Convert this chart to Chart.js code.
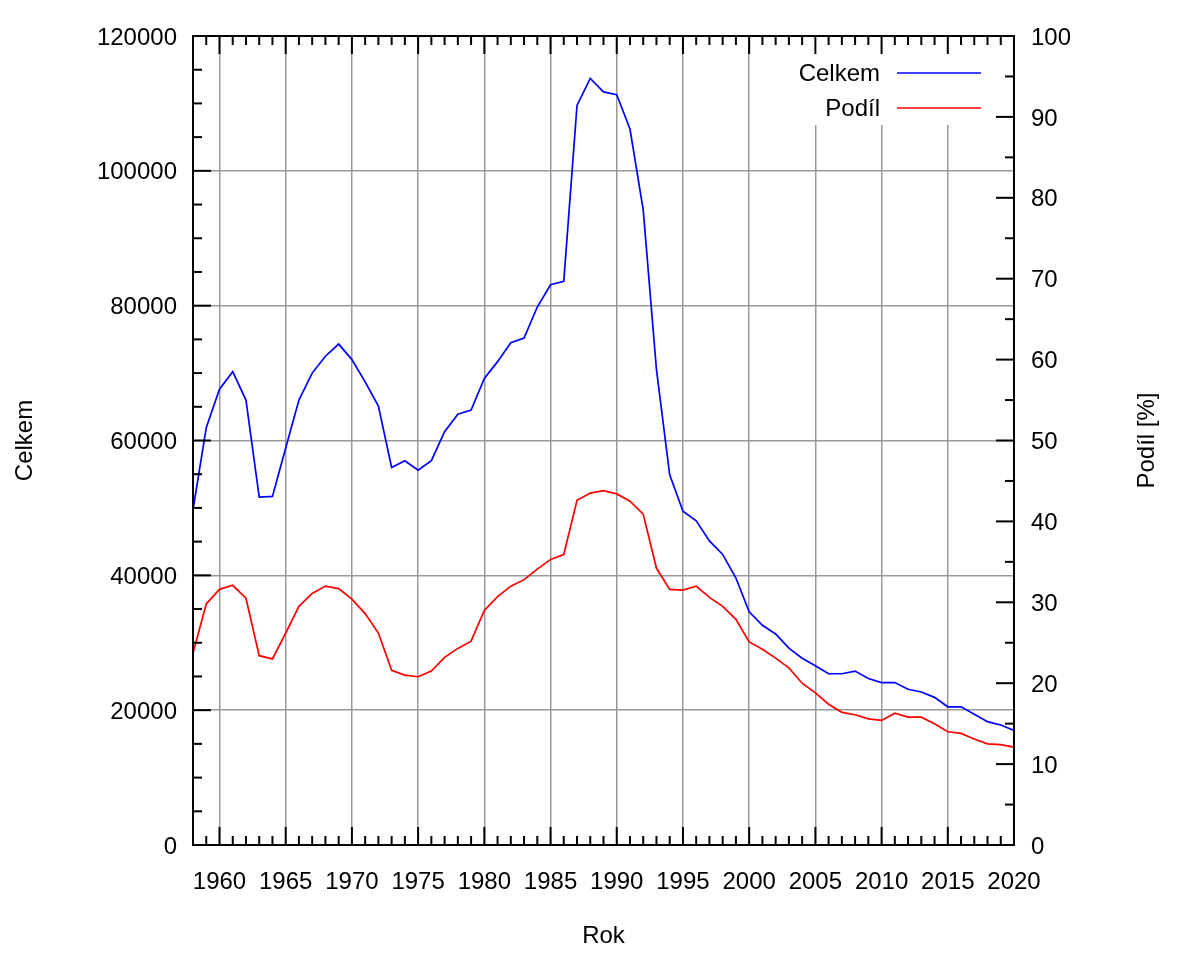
<!DOCTYPE html>
<html><head><meta charset="utf-8">
<script src="https://cdn.jsdelivr.net/npm/chart.js@4.4.1/dist/chart.umd.min.js"></script>
<style>html,body{margin:0;padding:0;background:#fff}canvas{display:block}</style>
</head><body>
<canvas id="c" width="1200" height="960" style="width:1200px;height:960px"></canvas>
<script>
const years = [1958,1959,1960,1961,1962,1963,1964,1965,1966,1967,1968,1969,1970,1971,1972,1973,1974,1975,1976,1977,1978,1979,1980,1981,1982,1983,1984,1985,1986,1987,1988,1989,1990,1991,1992,1993,1994,1995,1996,1997,1998,1999,2000,2001,2002,2003,2004,2005,2006,2007,2008,2009,2010,2011,2012,2013,2014,2015,2016,2017,2018,2019,2020];
const celkem = [49700,61900,67600,70200,66000,51600,51700,58900,66000,70000,72500,74300,72000,68700,65100,56000,57000,55600,57000,61300,63900,64500,69200,71700,74500,75200,79800,83100,83600,109700,113700,111700,111300,106200,94200,70500,54900,49500,48100,45100,43100,39600,34600,32600,31300,29200,27700,26600,25400,25400,25800,24700,24100,24100,23100,22700,21900,20500,20500,19400,18300,17800,17000];
const podil = [23.7,29.8,31.6,32.1,30.5,23.4,23.0,26.2,29.5,31.1,32.0,31.7,30.4,28.6,26.2,21.6,21.0,20.8,21.5,23.2,24.3,25.2,29.0,30.7,32.0,32.8,34.1,35.3,35.9,42.6,43.5,43.8,43.4,42.5,40.9,34.2,31.6,31.5,32.0,30.6,29.5,27.9,25.1,24.2,23.1,21.9,20.0,18.8,17.4,16.4,16.1,15.6,15.4,16.3,15.8,15.8,15.0,14.0,13.8,13.1,12.5,12.4,12.1];
const xTickLabels = [1960,1965,1970,1975,1980,1985,1990,1995,2000,2005,2010,2015,2020];
const yTickLabels = [0,20000,40000,60000,80000,100000,120000];
const y2TickLabels = [0,10,20,30,40,50,60,70,80,90,100];
const seriesNames = ['Celkem','Podíl'];
const xTitle = 'Rok';
const yTitle = 'Celkem';
const y2Title = 'Podíl [%]';

const FONT = {family:"'Liberation Sans', Arial, sans-serif", size:24};
const GRID = '#999999';

const gnuFrame = {
  id:'gnuFrame',
  beforeDatasetsDraw(chart){
    const ctx = chart.ctx, a = chart.chartArea;
    ctx.save();
    ctx.fillStyle = '#fff';
    ctx.fillRect(a.right - 225, a.top, 224, 89);
    ctx.font = FONT.size + 'px ' + FONT.family;
    ctx.textAlign = 'right';
    ctx.textBaseline = 'middle';
    chart.data.datasets.forEach((ds, i) => {
      const yy = a.top + 37 + i * 35;
      ctx.fillStyle = '#000';
      ctx.fillText(ds.label, a.right - 134, yy + 1);
      ctx.strokeStyle = ds.borderColor;
      ctx.lineWidth = 1.6;
      ctx.beginPath(); ctx.moveTo(a.right - 117, yy); ctx.lineTo(a.right - 33, yy); ctx.stroke();
    });
    ctx.restore();
  },
  afterDatasetsDraw(chart){
    const ctx = chart.ctx, a = chart.chartArea;
    const xs = chart.scales.x, ys = chart.scales.y, y2 = chart.scales.y2;
    ctx.save();
    ctx.strokeStyle = '#000';
    ctx.lineWidth = 2;
    const line = (x1,y1,x2,y2_) => {ctx.beginPath(); ctx.moveTo(x1,y1); ctx.lineTo(x2,y2_); ctx.stroke();};
    for (let v = Math.ceil(xs.min); v <= xs.max; v++) {
      const p = xs.getPixelForValue(v);
      const L = v % 5 === 0 ? 18 : 9;
      line(p, a.bottom, p, a.bottom - L);
      line(p, a.top, p, a.top + L);
    }
    for (let v = ys.min; v <= ys.max; v += 5000) {
      const p = ys.getPixelForValue(v);
      const L = v % 20000 === 0 ? 18 : 9;
      line(a.left, p, a.left + L, p);
    }
    for (let v = y2.min; v <= y2.max; v += 5) {
      const p = y2.getPixelForValue(v);
      const L = v % 10 === 0 ? 18 : 9;
      line(a.right, p, a.right - L, p);
    }
    ctx.strokeRect(a.left, a.top, a.right - a.left, a.bottom - a.top);
    // right axis title
    ctx.translate(a.right + 133, (a.top + a.bottom) / 2);
    ctx.rotate(-Math.PI / 2);
    ctx.fillStyle = '#000';
    ctx.font = FONT.size + 'px ' + FONT.family;
    ctx.textAlign = 'center';
    ctx.textBaseline = 'middle';
    ctx.fillText(y2Title, 0, 0);
    ctx.restore();
  }
};

new Chart(document.getElementById('c'), {
  type:'line',
  data:{
    datasets:[
      {label:seriesNames[0], data:years.map((y,i)=>({x:y,y:celkem[i]})), borderColor:'#0000ff', borderWidth:1.7, pointRadius:0, tension:0, yAxisID:'y', fill:false},
      {label:seriesNames[1], data:years.map((y,i)=>({x:y,y:podil[i]})), borderColor:'#ff0000', borderWidth:1.7, pointRadius:0, tension:0, yAxisID:'y2', fill:false}
    ]
  },
  plugins:[gnuFrame],
  options:{
    responsive:false,
    animation:false,
    layout:{padding:{top:36,left:0,right:0,bottom:0}},
    plugins:{legend:{display:false}, tooltip:{enabled:false}},
    scales:{
      x:{
        type:'linear', position:'bottom', min:1958, max:2020,
        afterBuildTicks:s=>{s.ticks = xTickLabels.map(v=>({value:v}));},
        afterFit:s=>{s.height = 115;},
        ticks:{callback:v=>String(v), font:FONT, color:'#000', padding:23, maxRotation:0, autoSkip:false},
        grid:{color:GRID, lineWidth:1.5, drawTicks:false},
        border:{display:false},
        title:{display:true, text:xTitle, font:FONT, color:'#000', padding:{top:0,bottom:9}}
      },
      y:{
        type:'linear', position:'left', min:0, max:120000,
        afterBuildTicks:s=>{s.ticks = yTickLabels.map(v=>({value:v}));},
        afterFit:s=>{s.width = 193;},
        ticks:{callback:v=>String(v), font:FONT, color:'#000', padding:16, labelOffset:2, autoSkip:false},
        grid:{color:GRID, lineWidth:1.5, drawTicks:false},
        border:{display:false},
        title:{display:true, text:yTitle, font:FONT, color:'#000', padding:{top:11,bottom:0}}
      },
      y2:{
        type:'linear', position:'right', min:0, max:100,
        afterBuildTicks:s=>{s.ticks = y2TickLabels.map(v=>({value:v}));},
        afterFit:s=>{s.width = 186;},
        ticks:{callback:v=>String(v), font:FONT, color:'#000', padding:17, labelOffset:2, autoSkip:false},
        grid:{display:false, drawTicks:false},
        border:{display:false}
      }
    }
  }
});
</script>
</body></html>
